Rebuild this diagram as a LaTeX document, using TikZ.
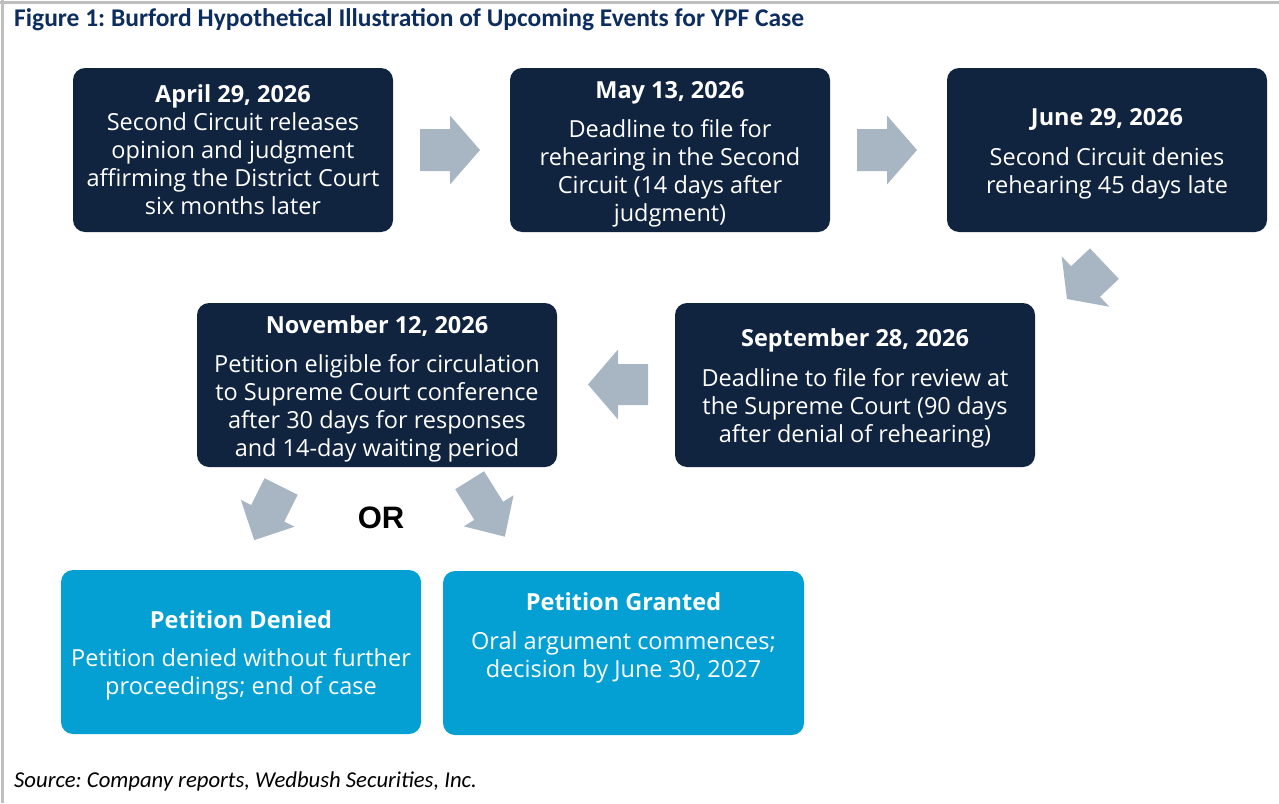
\documentclass[tikz,border=0pt]{standalone}
\usepackage{fontspec}
\setmainfont{Open Sans}
\newfontfamily\calfont{Carlito}
\newfontfamily\orfont{Liberation Sans}
\definecolor{boxnavy}{HTML}{10233F}
\definecolor{boxblue}{HTML}{04A0D3}
\definecolor{arrowgray}{HTML}{A8B5C2}
\definecolor{titlenavy}{HTML}{0C2D5E}
\definecolor{framegray}{HTML}{BFBFBF}
\frenchspacing
% taller first line, so that the text block sits a little lower in its box
\newcommand{\toppad}{\rule{0pt}{25pt}}

% block arrow: centre of head base (x,y), direction, shaft length, shaft half width,
% head length, head half width
\newcommand{\blockarrow}[7]{%
  \fill[arrowgray, shift={(#1,#2)}, rotate=#3]
    (-#4,-#5) -- (0,-#5) -- (0,-#7) -- (#6,0) -- (0,#7) -- (0,#5) -- (-#4,#5) -- cycle;}

\begin{document}
\begin{tikzpicture}[x=1pt,y=-1pt,
  eventbox/.style={rectangle, rounded corners=12pt, fill=boxnavy, text=white,
    minimum width=320pt, minimum height=164pt, align=center, inner sep=0pt,
    font=\fontsize{23.5}{28}\selectfont},
  widebox/.style={eventbox, minimum width=360pt},
  outcomebox/.style={widebox, fill=boxblue},
  plaintext/.style={inner sep=0pt, text=white, align=center,
    font=\fontsize{23.5}{28}\selectfont}]
\useasboundingbox (0,0) rectangle (1279,803);

% frame lines along the top and left edge
\draw[framegray, line width=2.5pt] (0,2.5) -- (1279,2.5);
\draw[framegray, line width=2.5pt] (2.5,0) -- (2.5,803);

% heading and source line
\node[anchor=base west, inner sep=0pt, text=titlenavy,
  font=\calfont\bfseries\fontsize{25.5}{30}\selectfont] (title) at (14,27)
  {Figure 1: Burford Hypothetical Illustration of Upcoming Events for YPF Case};
\node[anchor=base west, inner sep=0pt,
  font=\calfont\itshape\fontsize{22.7}{26}\selectfont] (source) at (14,787)
  {Source: Company reports, Wedbush Securities, Inc.};

% timeline events
\node[eventbox] (apr) at (233,150)
  {\textbf{April 29, 2026}\\Second Circuit releases\\opinion and judgment\\affirming the District Court\\six months later};
\node[eventbox] (may) at (670,150)
  {\toppad\textbf{May 13, 2026}\\[11pt]Deadline to file for\\rehearing in the Second\\Circuit (14 days after\\judgment)};
\node[eventbox] (jun) at (1107,150)
  {\toppad\textbf{June 29, 2026}\\[12pt]Second Circuit denies\\rehearing 45 days late};
\node[widebox] (sep) at (855,385)
  {\toppad\textbf{September 28, 2026}\\[12pt]Deadline to file for review at\\the Supreme Court (90 days\\after denial of rehearing)};
\node[widebox] (nov) at (377,385)
  {\toppad\textbf{November 12, 2026}\\[11pt]Petition eligible for circulation\\to Supreme Court conference\\after 30 days for responses\\and 14-day waiting period};

% possible outcomes
\node[outcomebox] (denied) at (241,652)
  {\toppad\textbf{Petition Denied}\\[10pt]Petition denied without further\\proceedings; end of case};
\node[outcomebox, minimum width=361pt] (granted) at (623.5,653) {};
\node[plaintext] (grantedtext) at ([yshift=15pt]granted.center)
  {\textbf{Petition Granted}\\[11pt]Oral argument commences;\\decision by June 30, 2027};

\node[inner sep=0pt, font=\orfont\bfseries\fontsize{31}{36}\selectfont] (or) at (381,518) {OR};

% block arrows between the events
\blockarrow{450}{150}{0}{30}{21}{30}{34.5}
\blockarrow{887}{150}{0}{30}{21}{30}{34.5}
\blockarrow{1085.5}{281.5}{223.4}{26}{21}{25.5}{34.7}
\blockarrow{618}{384.5}{180}{30}{20.5}{30}{35}
\blockarrow{267.7}{513.3}{243.4}{30}{18.5}{30}{30}
\blockarrow{488.7}{510.8}{302}{36}{17}{30.5}{29.3}
\end{tikzpicture}
\end{document}
